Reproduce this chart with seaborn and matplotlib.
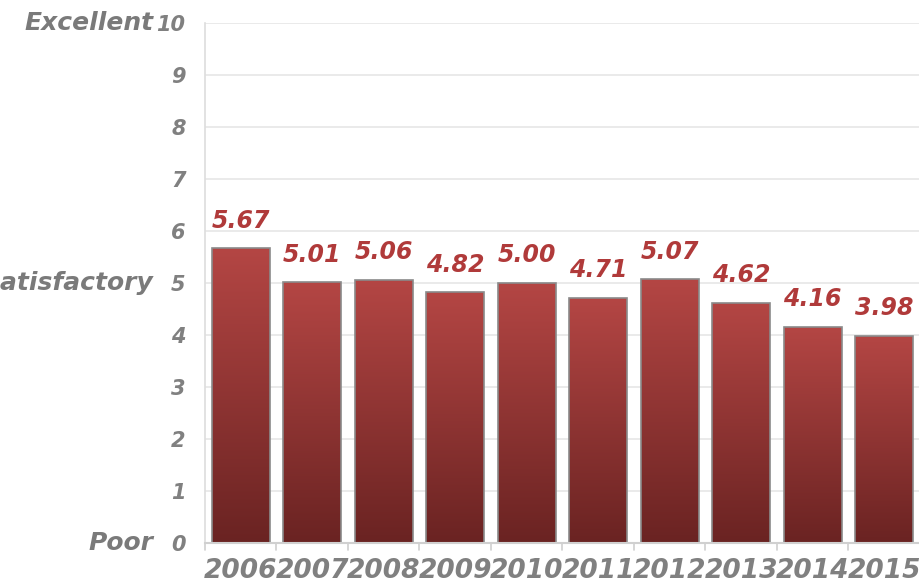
import numpy as np
import pandas as pd
import matplotlib
matplotlib.use("Agg")
import matplotlib.pyplot as plt
import seaborn as sns
from matplotlib.colors import LinearSegmentedColormap

years = ["2006", "2007", "2008", "2009", "2010", "2011", "2012", "2013", "2014", "2015"]
scores = [5.67, 5.01, 5.06, 4.82, 5.00, 4.71, 5.07, 4.62, 4.16, 3.98]
y_ticks = [0, 1, 2, 3, 4, 5, 6, 7, 8, 9, 10]
y_names = {0: "Poor", 5: "Satisfactory", 10: "Excellent"}

df = pd.DataFrame({"year": years, "score": scores})

sns.set_theme(style="white")
plt.rcParams['font.family'] = ['DejaVu Sans']

fig = plt.figure(figsize=(9.2, 5.86), dpi=100)
ax = fig.add_axes([205/920, 43/586, 715/920, 520/586])

sns.barplot(data=df, x="year", y="score", ax=ax, color="#a03c3a",
            width=0.81, edgecolor="#8a8a8a", linewidth=1.2, saturation=1)

cmap = LinearSegmentedColormap.from_list("g", ["#6a2322", "#b44644"])
grad = np.linspace(0, 1, 256).reshape(-1, 1)
for p in ax.patches:
    x0, y0 = p.get_x(), p.get_y()
    w, h = p.get_width(), p.get_height()
    im = ax.imshow(grad, cmap=cmap, aspect="auto", origin="lower",
                   extent=[x0, x0 + w, y0, y0 + h], zorder=p.get_zorder() + 0.1)
    im.set_clip_path(p)
    p.set_facecolor("none")
    p.set_zorder(p.get_zorder() + 0.2)

ax.set_xlim(-0.5, len(years) - 0.5)
ax.set_ylim(0, 10)
ax.set_yticks(y_ticks)
ax.set_yticklabels([str(t) for t in y_ticks])
ax.grid(axis="y", color="#e6e6e6", linewidth=1.2, zorder=0)
ax.set_axisbelow(True)

for s in ["top", "right"]:
    ax.spines[s].set_visible(False)
ax.spines["left"].set_color("#dddddd")
ax.spines["left"].set_linewidth(1.2)
ax.spines["bottom"].set_color("#d0d0d0")
ax.spines["bottom"].set_linewidth(1.5)

ax.set_xlabel("")
ax.set_ylabel("")

ax.tick_params(axis="y", length=0, pad=14, labelcolor="#808080", labelsize=15)
ax.tick_params(axis="x", length=0, pad=11, labelcolor="#808080", labelsize=19)
for lab in ax.get_yticklabels() + ax.get_xticklabels():
    lab.set_fontstyle("italic")
    lab.set_fontweight("bold")

# category boundary ticks
for i in range(len(years) + 1):
    ax.plot([i - 0.5, i - 0.5], [0, -0.14], color="#d0d0d0", lw=1.2,
            clip_on=False, zorder=1)

for i, v in enumerate(scores):
    ax.text(i, v + 0.3, f"{v:.2f}", ha="center", va="bottom", color="#b03a3a",
            fontsize=17, fontstyle="italic", fontweight="bold")

for val, name in y_names.items():
    ax.text(-0.072, val, name, transform=ax.get_yaxis_transform(),
            ha="right", va="center", color="#7a7a7a", fontsize=18,
            fontstyle="italic", fontweight="bold")

fig.savefig("out.png", dpi=100)
